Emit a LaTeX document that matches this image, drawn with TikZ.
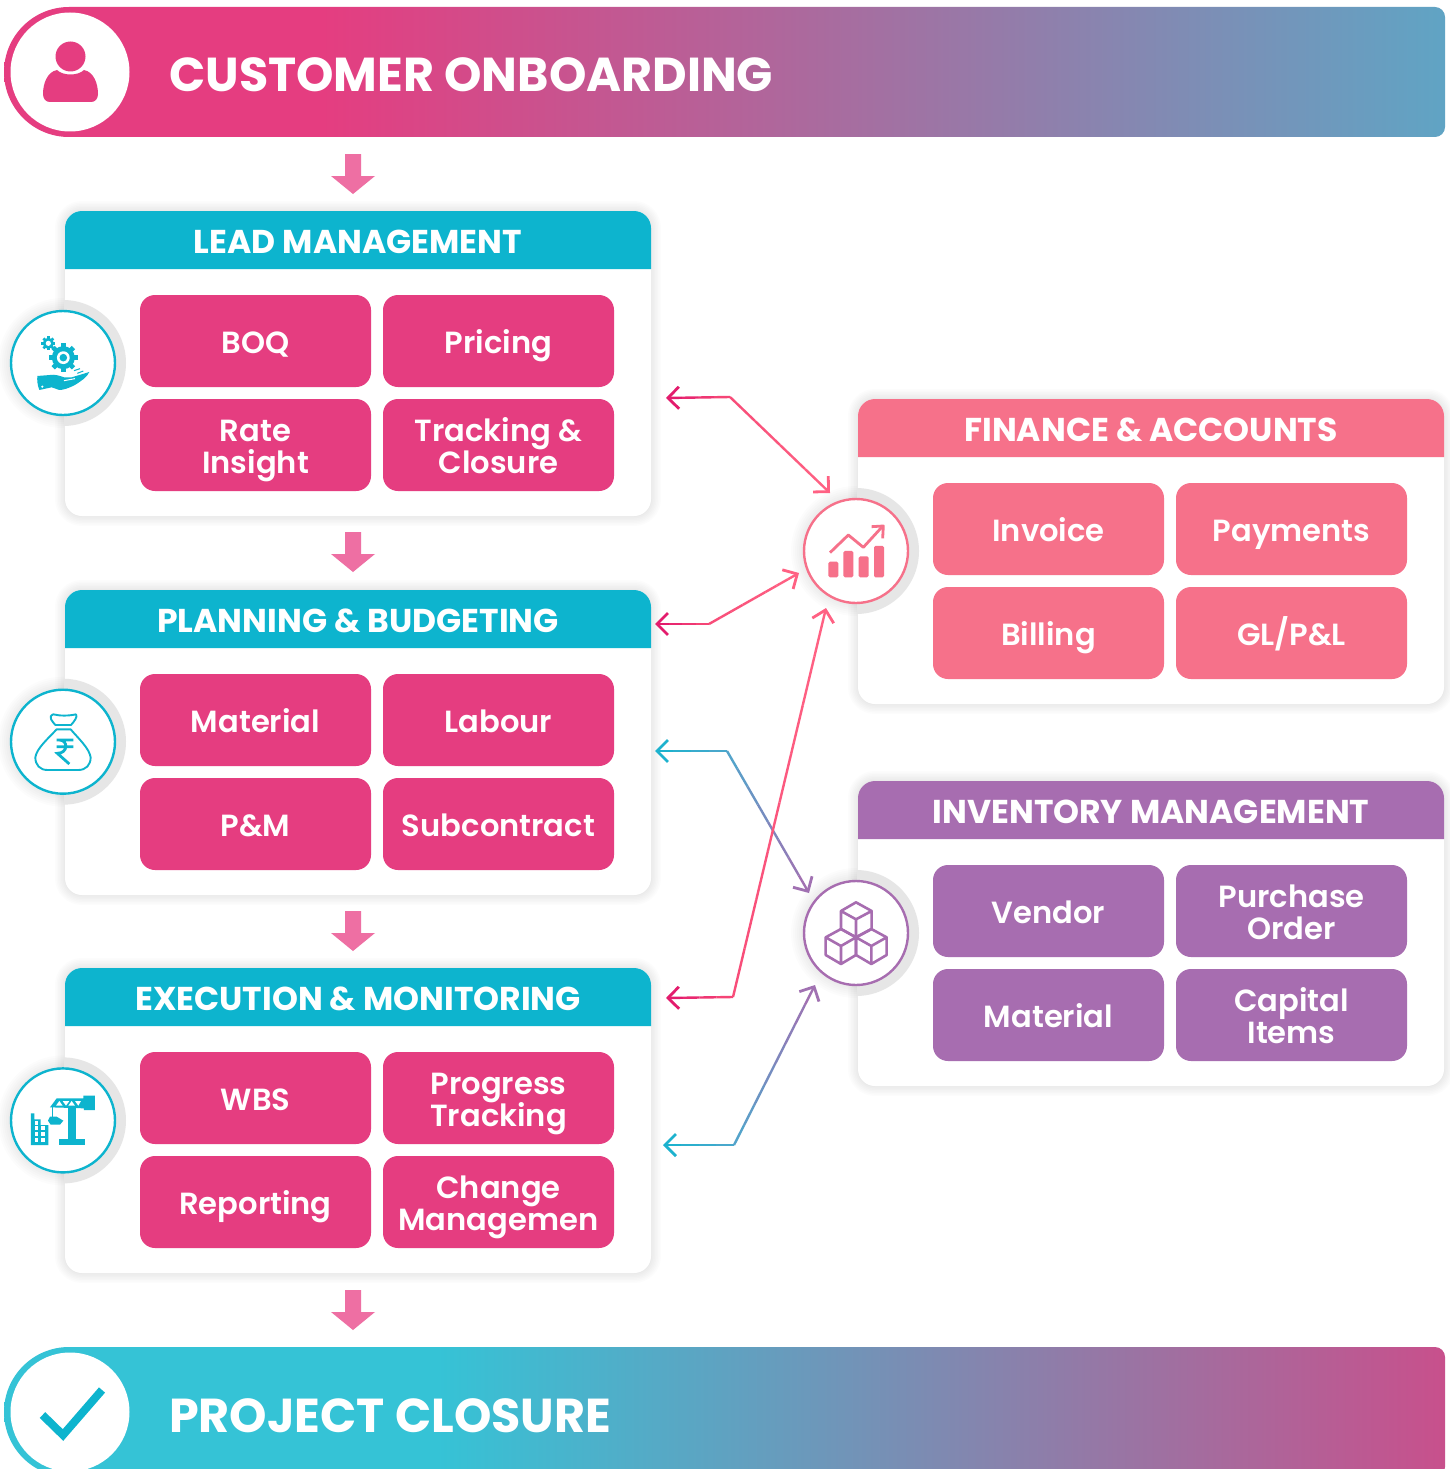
\documentclass[tikz,border=0pt]{standalone}
\usepackage{fontspec}
\setmainfont{Poppins}
\newfontfamily\medfont{Poppins SemiBold}
\usetikzlibrary{arrows.meta,calc}
\definecolor{cpink}{HTML}{E53D80}
\definecolor{cteal}{HTML}{0DB4CE}
\definecolor{ccoral}{HTML}{F6718A}
\definecolor{cpurple}{HTML}{A76DB0}
\definecolor{carrow}{HTML}{EE6FA3}
\definecolor{cblue}{HTML}{60A4C4}
\definecolor{clight}{HTML}{35C3D6}
\definecolor{cmag}{HTML}{C8508C}
\definecolor{cring}{HTML}{E6E6E6}
\definecolor{linkA}{HTML}{E0156B}
\definecolor{linkB}{HTML}{F84C78}
\definecolor{linkC}{HTML}{FF6384}
\definecolor{linkD}{HTML}{16B4CE}
\definecolor{linkE}{HTML}{4FA6CC}
\definecolor{linkF}{HTML}{A76DB0}
\pgfdeclarehorizontalshading{hdrA}{100bp}{color(0bp)=(cpink);color(36bp)=(cpink);color(75bp)=(cblue);color(100bp)=(cblue)}
\pgfdeclarehorizontalshading{hdrB}{100bp}{color(0bp)=(clight);color(40bp)=(clight);color(75bp)=(cmag);color(100bp)=(cmag)}
\newcommand{\tl}[1]{\rule[-4pt]{0pt}{32pt}\smash{#1}}
\tikzset{
 tile/.style={rounded corners=15pt,minimum width=231pt,minimum height=92pt,inner sep=0pt,text=white,align=center,font=\medfont\fontsize{30.6}{32}\selectfont},
 cardbox/.style={rounded corners=17pt,fill=white,minimum width=586pt,minimum height=305pt,inner sep=0pt},
 cardtitle/.style={text=white,inner sep=0pt,font=\bfseries\fontsize{33}{33}\selectfont},
 maintitle/.style={text=white,inner sep=0pt,anchor=base west,font=\bfseries\fontsize{47.6}{47.6}\selectfont},
 iconring/.style={circle,fill=white,line width=2.4pt,minimum size=104pt,inner sep=0pt},
 downarrow/.style={fill=carrow},
 linkline/.style={line width=2.4pt},
 glyphline/.style={line width=2.6pt,line join=round}
}
% soft shadow of a card
\newcommand{\cardshadow}[2]{%
 \foreach \w in {2,5,8,11,14,17,20}{%
  \draw[black,opacity=0.012,line width=\w pt,rounded corners=17pt] (#1,#2) rectangle ++(586,305);}}
% card with coloured band
\newcommand{\cardband}[3]{%
 \fill[#3] (#1,#2+58) -- (#1,#2+17) .. controls (#1,#2+7.6) and (#1+7.6,#2) .. (#1+17,#2)
  -- (#1+569,#2) .. controls (#1+578.4,#2) and (#1+586,#2+7.6) .. (#1+586,#2+17) -- (#1+586,#2+58) -- cycle;}
% icon disc base
\newcommand{\iconbase}[4]{%
 \begin{scope}
 \clip (#1-90,#2-90) rectangle (#1+1,#2+90);
 \foreach \r in {53,55,57,59,61,63,65}{\fill[black,opacity=0.012] (#1,#2) circle[radius=\r pt];}
 \end{scope}
 \begin{scope}
 \clip (#1+1,#2-90) rectangle (#1+90,#2+90);
 \fill[cring] (#1,#2) circle[radius=63pt];
 \end{scope}
 \node[iconring,draw=#3] (#4) at (#1,#2) {};}
% two-segment link with colour running along it
\newcommand{\linkpath}[6]{%
 \foreach \i in {1,...,4}{%
  \pgfmathtruncatemacro\pa{(\i-0.5)*25}
  \pgfmathsetmacro\sa{(\i-1)/4}\pgfmathsetmacro\sb{\i/4}
  \ifnum\i=1
   \draw[linkline,color=#5!\pa!#4,{Straight Barb[length=11pt,width=22pt,line width=2.8pt]}-] ($(#1)!\sa!(#2)$) -- ($(#1)!\sb!(#2)$);
  \else
   \draw[linkline,color=#5!\pa!#4] ($(#1)!\sa!(#2)$) -- ($(#1)!\sb!(#2)$);
  \fi}
 \foreach \i in {1,...,8}{%
  \pgfmathtruncatemacro\pa{(\i-0.5)*12.5}
  \pgfmathsetmacro\sa{(\i-1)/8}\pgfmathsetmacro\sb{\i/8}
  \ifnum\i=8
   \draw[linkline,color=#6!\pa!#5,-{Straight Barb[length=11pt,width=22pt,line width=2.8pt]}] ($(#2)!\sa!(#3)$) -- ($(#2)!\sb!(#3)$);
  \else
   \draw[linkline,color=#6!\pa!#5] ($(#2)!\sa!(#3)$) -- ($(#2)!\sb!(#3)$);
  \fi}}
\newcommand{\downarr}[1]{%
 \fill[downarrow] (345,#1) -- (361,#1) -- (361,#1+22) -- (375,#1+22) -- (353,#1+40) -- (331,#1+22) -- (345,#1+22) -- cycle;}
\newcommand{\hdrshape}{(69,7) -- (1435,7) .. controls (1440.5,7) and (1445,11.5) .. (1445,17) -- (1445,127) .. controls (1445,132.5) and (1440.5,137) .. (1435,137) -- (69,137) .. controls (33.1,137) and (4,107.9) .. (4,72) .. controls (4,36.1) and (33.1,7) .. (69,7) -- cycle}
\newcommand{\geartooth}[5]{%
 \foreach \a in {0,45,...,135}{\fill[cteal,rotate around={\a+#5:(#1,#2)}] (#1-#4,#2-#3) rectangle (#1+#4,#2+#3);}}
\begin{document}
\begin{tikzpicture}[x=1pt,y=-1pt]
\useasboundingbox (0,0) rectangle (1450,1469);
\clip (0,0) rectangle (1450,1469);
\fill[white] (0,0) rectangle (1450,1469);

% top banner
\shade[shading=hdrA] \hdrshape;
\node[circle,fill=white,minimum size=119pt,inner sep=0pt] (topdisc) at (70,72) {};
\fill[cpink] (70.5,56.5) circle[radius=15pt];
\fill[cpink] (57,70) .. controls (63,76) and (78,76) .. (84,70) .. controls (94,72) and (98,84) .. (98,94) .. controls (98,99) and (95,102) .. (91,102) -- (50,102) .. controls (46,102) and (43,99) .. (43,94) .. controls (43,84) and (47,72) .. (57,70) -- cycle;
\node[maintitle] (toptitle) at (169,92) {CUSTOMER ONBOARDING};

% bottom banner
\begin{scope}[shift={(0,1340)}]
\shade[shading=hdrB] \hdrshape;
\node[circle,fill=white,minimum size=119pt,inner sep=0pt] (botdisc) at (70,72) {};
\draw[cteal,line width=8pt] (42.5,75) -- (63,95) -- (102,50);
\node[maintitle] (bottitle) at (169,92) {PROJECT CLOSURE};
\end{scope}

% down arrows
\downarr{154}\downarr{532}\downarr{911}\downarr{1290}

% cards: shadows
\cardshadow{65}{211}\cardshadow{65}{590}\cardshadow{65}{968}\cardshadow{858}{399}\cardshadow{858}{781}
\node[cardbox] (leadcard) at (358,363.5) {};
\node[cardbox] (plancard) at (358,742.5) {};
\node[cardbox] (execcard) at (358,1120.5) {};
\node[cardbox] (fincard) at (1151,551.5) {};
\node[cardbox] (invcard) at (1151,933.5) {};
\cardband{65}{211}{cteal}\cardband{65}{590}{cteal}\cardband{65}{968}{cteal}\cardband{858}{399}{ccoral}\cardband{858}{781}{cpurple}
\node[cardtitle] (leadtitle) at (358,242) {LEAD MANAGEMENT};
\node[cardtitle] (plantitle) at (358,621) {PLANNING \& BUDGETING};
\node[cardtitle] (exectitle) at (358,999) {EXECUTION \& MONITORING};
\node[cardtitle] (fintitle) at (1151,430) {FINANCE \& ACCOUNTS};
\node[cardtitle] (invtitle) at (1151,812) {INVENTORY MANAGEMENT};

% tiles
\node[tile,fill=cpink] (t1) at (255.5,341) {\tl{BOQ}};
\node[tile,fill=cpink] (t2) at (498.5,341) {\tl{Pricing}};
\node[tile,fill=cpink] (t3) at (255.5,445) {\tl{Rate}\\\tl{Insight}};
\node[tile,fill=cpink] (t4) at (498.5,445) {\tl{Tracking \&}\\\tl{Closure}};
\node[tile,fill=cpink] (t5) at (255.5,720) {\tl{Material}};
\node[tile,fill=cpink] (t6) at (498.5,720) {\tl{Labour}};
\node[tile,fill=cpink] (t7) at (255.5,824) {\tl{P\&M}};
\node[tile,fill=cpink] (t8) at (498.5,824) {\tl{Subcontract}};
\node[tile,fill=cpink] (t9) at (255.5,1098) {\tl{WBS}};
\node[tile,fill=cpink] (t10) at (498.5,1098) {\tl{Progress}\\\tl{Tracking}};
\node[tile,fill=cpink] (t11) at (255.5,1202) {\tl{Reporting}};
\node[tile,fill=cpink] (t12) at (498.5,1202) {\tl{Change}\\\tl{Managemen}};
\node[tile,fill=ccoral] (t13) at (1048.5,529) {\tl{Invoice}};
\node[tile,fill=ccoral] (t14) at (1291.5,529) {\tl{Payments}};
\node[tile,fill=ccoral] (t15) at (1048.5,633) {\tl{Billing}};
\node[tile,fill=ccoral] (t16) at (1291.5,633) {\tl{GL/P\&L}};
\node[tile,fill=cpurple] (t17) at (1048.5,911) {\tl{Vendor}};
\node[tile,fill=cpurple] (t18) at (1291.5,911) {\tl{Purchase}\\\tl{Order}};
\node[tile,fill=cpurple] (t19) at (1048.5,1015) {\tl{Material}};
\node[tile,fill=cpurple] (t20) at (1291.5,1015) {\tl{Capital}\\\tl{Items}};

% icon discs
\iconbase{63}{363}{cteal}{icona}
\iconbase{63}{741.7}{cteal}{iconb}
\iconbase{63}{1120.4}{cteal}{iconc}
\iconbase{856}{551}{ccoral}{icond}
\iconbase{856}{933}{cpurple}{icone}

% gears and hand
\begin{scope}[shift={(0,290)},x=0.3333pt,y=-0.3333pt]
\geartooth{190}{203}{43}{7}{0}
\fill[cteal] (190,203) circle[radius=11.5pt];
\fill[white] (190,203) circle[radius=6.4pt];
\fill[cteal] (190,203) circle[radius=3.8pt];
\geartooth{145}{160}{21}{4}{0}
\fill[cteal] (145,160) circle[radius=5.6pt];
\fill[white] (145,160) circle[radius=2.6pt];
\fill[cteal] (112,258) -- (150,255) .. controls (165,252) and (180,258) .. (192,262) -- (215,262) -- (268,246) .. controls (262,262) and (240,275) .. (225,285) .. controls (205,295) and (190,300) .. (178,300) -- (155,292) -- (118,300) .. controls (112,285) and (111,270) .. (112,258) -- cycle;
\fill[white] (127,290) circle[radius=1.2pt];
\draw[cteal,line width=1pt] (222,242) -- (240,236) (232,250) -- (250,243);
\draw[white,line width=1pt] (192,272) -- (225,266);
\end{scope}

% money bag
\begin{scope}[shift={(0,670)},x=0.3333pt,y=-0.3333pt]
\draw[cteal,glyphline,line width=1.9pt] (160,133) .. controls (180,138) and (205,138) .. (228,133) .. controls (234,140) and (222,155) .. (213,165) -- (166,165) .. controls (158,155) and (142,140) .. (160,133) -- cycle;
\draw[cteal,glyphline,line width=1.9pt] (170,178) -- (212,178) .. controls (235,205) and (268,235) .. (272,262) .. controls (272,285) and (258,300) .. (235,300) -- (142,300) .. controls (120,300) and (106,285) .. (106,262) .. controls (110,235) and (145,205) .. (170,178) -- cycle;
\draw[cteal,line width=2.8pt] (170,210) -- (220,210) (170,230) -- (220,230) (178,210) .. controls (205,210) and (205,250) .. (172,250) -- (208,282);
\end{scope}

% crane and building
\begin{scope}[shift={(0,1050)},x=0.3333pt,y=-0.3333pt]
\fill[cteal] (205,175) rectangle (228,268);
\fill[cteal] (178,268) rectangle (254,286);
\fill[cteal] (150,172) -- (170,145) -- (250,145) -- (250,137) -- (285,137) -- (285,180) -- (252,180) -- (252,175) -- cycle;
\fill[white] (168,167) -- (178,153) -- (188,167) -- cycle;
\fill[white] (188,153) -- (208,153) -- (198,167) -- cycle;
\fill[white] (205,167) -- (215,153) -- (225,167) -- cycle;
\fill[white] (225,153) -- (243,153) -- (235,167) -- cycle;
\draw[cteal,line width=1.2pt] (158,172) -- (158,200);
\fill[cteal] (150,200) -- (170,200) -- (190,212) -- (180,224) -- (152,224) -- (144,212) -- cycle;
\fill[cteal] (93,190) -- (103,190) -- (103,208) -- (122,208) -- (122,225) -- (145,225) -- (145,285) -- (93,285) -- cycle;
\foreach \yy in {229,247,265}{\foreach \xx in {104,124}{\fill[white] (\xx,\yy) rectangle ++(10,12);}}
\fill[white] (104,212) rectangle ++(10,12);
\end{scope}

% chart
\begin{scope}[shift={(780,470)},x=0.3333pt,y=-0.3333pt]
\foreach \xa/\ya in {145/275,190/243,236/259,282/228}{\fill[ccoral,rounded corners=1.5pt] (\xa,\ya) rectangle (\xa+30,322);}
\draw[ccoral,glyphline,line width=2.8pt] (150,248) -- (205,195) -- (250,232) -- (305,172);
\draw[ccoral,glyphline,line width=2.8pt] (275,170) -- (310,168) -- (308,205);
\end{scope}

% cubes
\begin{scope}[shift={(780,850)},x=0.3333pt,y=-0.3333pt]
\draw[cpurple,glyphline,line width=2.6pt] (228,157) -- (275,183) -- (275,237) -- (228,262) -- (183,237) -- (183,183) -- cycle
 (183,183) -- (228,208) -- (275,183) (228,208) -- (228,262);
\draw[cpurple,glyphline,line width=2.6pt] (183,237) -- (228,262) -- (228,315) -- (183,342) -- (137,315) -- (137,262) -- cycle
 (137,262) -- (183,288) -- (228,262) (183,288) -- (183,342);
\draw[cpurple,glyphline,line width=2.6pt] (274,237) -- (320,262) -- (320,315) -- (274,342) -- (228,315) -- (228,262) -- cycle
 (228,262) -- (274,288) -- (320,262) (274,288) -- (274,342);
\end{scope}

% link end points
\coordinate (l1a) at (666,398); \coordinate (l1m) at (730,397); \coordinate (l1b) at (830,493);
\coordinate (l2a) at (655,624); \coordinate (l2m) at (709,624); \coordinate (l2b) at (799,573);
\coordinate (l3a) at (666,998); \coordinate (l3m) at (733,997); \coordinate (l3b) at (826,608);
\coordinate (l4a) at (655,751); \coordinate (l4m) at (727,751); \coordinate (l4b) at (809,893);
\coordinate (l5a) at (663,1145); \coordinate (l5m) at (734,1145); \coordinate (l5b) at (815,985);
\linkpath{l4a}{l4m}{l4b}{linkD}{linkE}{linkF}
\linkpath{l5a}{l5m}{l5b}{linkD}{linkE}{linkF}
\linkpath{l1a}{l1m}{l1b}{linkA}{linkB}{linkC}
\linkpath{l2a}{l2m}{l2b}{linkA}{linkB}{linkC}
\linkpath{l3a}{l3m}{l3b}{linkA}{linkB}{linkC}
\end{tikzpicture}
\end{document}
